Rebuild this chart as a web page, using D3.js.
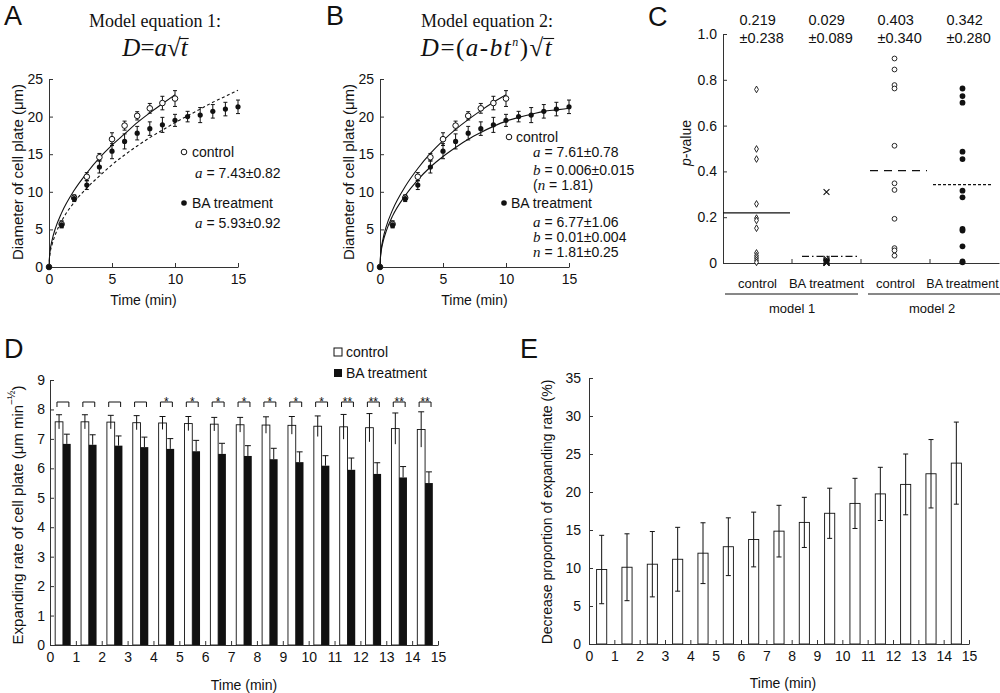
<!DOCTYPE html>
<html>
<head>
<meta charset="utf-8">
<script src="https://cdn.jsdelivr.net/npm/d3@7"></script>
<style>
    body { margin: 0; background: #fff; }
    svg { display: block; }
    text { font-family: Arial, "Liberation Sans", sans-serif; fill: #111; }
    .serif { font-family: "Times New Roman", "Liberation Serif", serif; }
    .it { font-style: italic; }
</style>
</head>
<body>
<div class="figura"></div>
<script>
// ---- datos ----
// A y B: diametro de la placa celular
const tiempoCtrl = [0, 1, 2, 3, 4, 5, 6, 7, 8, 9, 10];
const diamCtrl = [0, 5.7, 9.2, 12.0, 14.6, 17.0, 18.8, 20.1, 21.1, 21.8, 22.4];
const errCtrl = [0, 0.45, 0.4, 0.55, 0.5, 0.85, 0.6, 0.55, 0.65, 0.9, 1.05];
const tiempoBA = [0, 1, 2, 3, 4, 5, 6, 7, 8, 9, 10, 11, 12, 13, 14, 15];
const diamBA = [0, 5.6, 9.1, 10.9, 13.3, 15.4, 16.7, 17.8, 18.4, 18.9, 19.5, 20.0, 20.2, 20.7, 21.0, 21.3];
const errBA = [0, 0.4, 0.4, 0.6, 0.8, 1.0, 1.0, 0.9, 0.9, 1.0, 0.8, 0.7, 1.0, 0.9, 0.9, 0.9];

// curvas ajustadas
const tiempoAjuste = [0, 0.05, 0.25, 0.5, 1, 2, 3, 4, 5, 6, 7, 8, 9, 10, 11, 12, 13, 14, 15];
const ajusteA_ctrl = [0, 1.6, 3.6, 5.1, 7.2, 10.2, 12.5, 14.5, 16.2, 17.7, 19.2, 20.5, 21.7, 22.9];
const ajusteA_BA = [0, 1.36, 3.0, 4.3, 6.1, 8.6, 10.5, 12.1, 13.6, 14.9, 16.1, 17.2, 18.2, 19.2, 20.1, 21.0, 21.9, 22.7, 23.5];
const ajusteB_ctrl = [0, 1.7, 3.8, 5.4, 7.6, 10.7, 13.1, 15.1, 16.8, 18.3, 19.6, 20.8, 21.9, 22.9];
const ajusteB_BA = [0, 1.5, 3.4, 4.8, 6.8, 9.5, 11.6, 13.3, 14.7, 15.9, 17.0, 17.9, 18.7, 19.4, 19.9, 20.3, 20.7, 20.9, 21.1];

// C: p-values
const categoriasC = ['control', 'BA treatment', 'control', 'BA treatment'];
const mediasC = [0.219, 0.029, 0.403, 0.342];
const sdC = [0.238, 0.089, 0.340, 0.280];
const pCtrlM1 = [0.758, 0.498, 0.454, 0.258, 0.196, 0.186, 0.152, 0.044, 0.032, 0.022, 0.012, 0.003];
const pBAM1 = [0.31, 0.018, 0.012, 0.008, 0.004, 0.002, 0.001, 0];
const pCtrlM2 = [0.893, 0.845, 0.777, 0.762, 0.512, 0.348, 0.319, 0.193, 0.065, 0.055, 0.032];
const pBAM2 = [0.762, 0.729, 0.700, 0.486, 0.454, 0.316, 0.287, 0.149, 0.142, 0.073, 0.007, 0.003];

// D: tasa de expansion
const intervalos = d3.range(15);
const tasaCtrl = [7.58, 7.58, 7.57, 7.55, 7.54, 7.52, 7.50, 7.48, 7.47, 7.46, 7.43, 7.41, 7.38, 7.35, 7.32];
const errTasaCtrl = [0.24, 0.24, 0.23, 0.24, 0.22, 0.24, 0.23, 0.25, 0.28, 0.3, 0.35, 0.42, 0.48, 0.53, 0.6];
const tasaBA = [6.83, 6.80, 6.77, 6.72, 6.66, 6.58, 6.49, 6.42, 6.31, 6.21, 6.09, 5.95, 5.81, 5.69, 5.50];
const errTasaBA = [0.33, 0.34, 0.33, 0.34, 0.35, 0.37, 0.36, 0.35, 0.37, 0.35, 0.34, 0.4, 0.38, 0.37, 0.38];
const estrellas = ['', '', '', '', '*', '*', '*', '*', '*', '*', '*', '**', '**', '**', '**'];

// E: proporcion de disminucion (%)
const disminucion = [9.8, 10.1, 10.5, 11.15, 11.95, 12.8, 13.75, 14.85, 16.0, 17.2, 18.5, 19.75, 21.0, 22.4, 23.8];
const errDisminucion = [4.5, 4.4, 4.3, 4.2, 4.0, 3.8, 3.6, 3.4, 3.3, 3.3, 3.3, 3.5, 4.0, 4.5, 5.4];

const ancho = 1000,
    alto = 693;

const svg = d3.select('.figura').append('svg')
    .attr('width', ancho)
    .attr('height', alto);

const negro = '#111';

function ejeY(escala, x, ticks, pad, fmt) {
    const eje = d3.axisLeft(escala).tickValues(ticks).tickSizeInner(-4).tickSizeOuter(0).tickPadding(pad);
    if (fmt) eje.tickFormat(fmt);
    const g = svg.append('g').attr('transform', 'translate(' + x + ',0)').call(eje);
    estiloEje(g);
    return g;
}

function ejeX(escala, y, ticks, pad, fmt) {
    const eje = d3.axisBottom(escala).tickValues(ticks).tickSizeInner(-4).tickSizeOuter(0).tickPadding(pad);
    if (fmt) eje.tickFormat(fmt);
    const g = svg.append('g').attr('transform', 'translate(0,' + y + ')').call(eje);
    estiloEje(g);
    return g;
}

function estiloEje(g) {
    g.attr('font-size', 14).attr('font-family', null);
    g.select('.domain').attr('stroke', '#333');
    g.selectAll('.tick line').attr('stroke', '#333');
    g.selectAll('.tick text').attr('fill', negro);
}

function etiquetaY(x, y, txt, size) {
    return svg.append('text')
        .attr('transform', 'translate(' + x + ',' + y + ') rotate(-90)')
        .attr('text-anchor', 'middle')
        .attr('dominant-baseline', 'central')
        .attr('font-size', size || 15)
        .text(txt);
}

function letraPanel(x, y, l) {
    svg.append('text').attr('x', x).attr('y', y).attr('font-size', 27).text(l);
}

function barraError(g, cx, y0, y1, capa, ambas) {
    g.append('line').attr('x1', cx).attr('x2', cx).attr('y1', y0).attr('y2', y1).attr('stroke', negro);
    g.append('line').attr('x1', cx - capa).attr('x2', cx + capa).attr('y1', y1).attr('y2', y1).attr('stroke', negro);
    if (ambas) g.append('line').attr('x1', cx - capa).attr('x2', cx + capa).attr('y1', y0).attr('y2', y0).attr('stroke', negro);
}

// linea de parametro: "a = 7.43±0.82" con la variable en cursiva serif
function lineaParam(x, y, variable, resto, parentesis) {
    const t = svg.append('text').attr('x', x).attr('y', y).attr('font-size', 14);
    if (parentesis) t.append('tspan').text('(');
    t.append('tspan').attr('class', 'serif it').attr('font-size', 15).text(variable);
    t.append('tspan').text(resto);
}

// raya de la raiz sobre la ultima letra
function rayaRaiz(texto, yb) {
    const nodo = texto.node();
    const n = nodo.getNumberOfChars();
    const r = nodo.getExtentOfChar(n - 2);
    const t = nodo.getExtentOfChar(n - 1);
    svg.append('line')
        .attr('x1', r.x + r.width - 1.5).attr('x2', t.x + t.width + 1)
        .attr('y1', yb).attr('y2', yb)
        .attr('stroke', negro).attr('stroke-width', 1.1);
}

// ---- A y B ----
function panelCurvas(ox, ajusteCtrl, ajusteBA, discontinua) {
    const x = d3.scaleLinear().domain([0, 15]).range([ox, ox + 189]);
    const y = d3.scaleLinear().domain([0, 25]).range([267, 79]);

    ejeY(y, ox, [0, 5, 10, 15, 20, 25], 6);
    ejeX(x, 267, [0, 5, 10, 15], 7);

    const linea = d3.line()
        .x(d => x(d[0]))
        .y(d => y(d[1]))
        .curve(d3.curveMonotoneX);

    const g = svg.append('g');
    g.append('path')
        .datum(ajusteCtrl.map((v, i) => [tiempoAjuste[i], v]))
        .attr('d', linea)
        .attr('fill', 'none')
        .attr('stroke', negro)
        .attr('stroke-width', 1.1);
    g.append('path')
        .datum(ajusteBA.map((v, i) => [tiempoAjuste[i], v]))
        .attr('d', linea)
        .attr('fill', 'none')
        .attr('stroke', negro)
        .attr('stroke-width', 1.1)
        .attr('stroke-dasharray', discontinua ? '3,2.5' : null);

    // barras de error
    tiempoCtrl.forEach((t, i) => {
        if (errCtrl[i] > 0) barraError(g, x(t), y(diamCtrl[i] - errCtrl[i]), y(diamCtrl[i] + errCtrl[i]), 2, true);
    });
    tiempoBA.forEach((t, i) => {
        if (errBA[i] > 0) barraError(g, x(t), y(diamBA[i] - errBA[i]), y(diamBA[i] + errBA[i]), 2, true);
    });

    g.selectAll('.ctrl').data(tiempoCtrl).enter().append('circle')
        .attr('cx', d => x(d))
        .attr('cy', (d, i) => y(diamCtrl[i]))
        .attr('r', 2.8)
        .attr('fill', '#fff')
        .attr('stroke', negro);
    g.selectAll('.ba').data(tiempoBA).enter().append('circle')
        .attr('cx', d => x(d))
        .attr('cy', (d, i) => y(diamBA[i]))
        .attr('r', 2.6)
        .attr('fill', negro);

    svg.append('text')
        .attr('x', (x(0) + x(15)) / 2)
        .attr('y', 305)
        .attr('text-anchor', 'middle')
        .attr('font-size', 14)
        .text('Time (min)');
    etiquetaY(ox - 32, 172, 'Diameter of cell plate (\u03bcm)');
}

panelCurvas(49, ajusteA_ctrl, ajusteA_BA, true);
panelCurvas(380, ajusteB_ctrl, ajusteB_BA, false);

letraPanel(4, 25, 'A');
letraPanel(326, 25, 'B');

// titulos
svg.append('text').attr('class', 'serif').attr('x', 155).attr('y', 27)
    .attr('text-anchor', 'middle').attr('font-size', 18).text('Model equation 1:');
svg.append('text').attr('class', 'serif').attr('x', 487).attr('y', 27)
    .attr('text-anchor', 'middle').attr('font-size', 18).text('Model equation 2:');

const formA = svg.append('text').attr('class', 'serif').attr('x', 155).attr('y', 56)
    .attr('text-anchor', 'middle').attr('font-size', 25);
formA.append('tspan').attr('class', 'it').text('D');
formA.append('tspan').text('=');
formA.append('tspan').attr('class', 'it').text('a');
formA.append('tspan').text('\u221a');
formA.append('tspan').attr('class', 'it').text('t');
rayaRaiz(formA, 38.5);

const formB = svg.append('text').attr('class', 'serif').attr('x', 487).attr('y', 56)
    .attr('text-anchor', 'middle').attr('font-size', 25).attr('letter-spacing', 1.5);
formB.append('tspan').attr('class', 'it').text('D');
formB.append('tspan').text('=(');
formB.append('tspan').attr('class', 'it').text('a');
formB.append('tspan').text('-');
formB.append('tspan').attr('class', 'it').text('bt');
formB.append('tspan').attr('class', 'it').attr('font-size', 12).attr('dy', -10).text('n');
formB.append('tspan').attr('dy', 10).text(')');
formB.append('tspan').text('\u221a');
formB.append('tspan').attr('class', 'it').text('t');
rayaRaiz(formB, 38.5);

// leyendas A
svg.append('circle').attr('cx', 184).attr('cy', 152).attr('r', 2.8).attr('fill', '#fff').attr('stroke', negro);
svg.append('text').attr('x', 192).attr('y', 157).attr('font-size', 14).text('control');
lineaParam(195, 178, 'a', ' = 7.43\u00b10.82');
svg.append('circle').attr('cx', 184).attr('cy', 203).attr('r', 2.8).attr('fill', negro);
svg.append('text').attr('x', 192).attr('y', 208).attr('font-size', 14).text('BA treatment');
lineaParam(195, 228, 'a', ' = 5.93\u00b10.92');

// leyendas B
svg.append('circle').attr('cx', 509).attr('cy', 137).attr('r', 2.8).attr('fill', '#fff').attr('stroke', negro);
svg.append('text').attr('x', 516).attr('y', 142).attr('font-size', 14).text('control');
lineaParam(533, 157, 'a', ' = 7.61\u00b10.78');
lineaParam(533, 175, 'b', ' = 0.006\u00b10.015');
lineaParam(533, 190, 'n', ' = 1.81)', true);
svg.append('circle').attr('cx', 504).attr('cy', 203).attr('r', 2.8).attr('fill', negro);
svg.append('text').attr('x', 511).attr('y', 208).attr('font-size', 14).text('BA treatment');
lineaParam(533, 227, 'a', ' = 6.77\u00b11.06');
lineaParam(533, 242, 'b', ' = 0.01\u00b10.004');
lineaParam(533, 257, 'n', ' = 1.81\u00b10.25');

// ---- C ----
(function () {
    const claves = categoriasC.map((c, i) => i);
    const x = d3.scaleBand().domain(claves).range([723, 999]);
    const y = d3.scaleLinear().domain([0, 1]).range([263, 34]);

    ejeY(y, 723, [0, 0.2, 0.4, 0.6, 0.8, 1.0], 6, d => d === 0 ? '0' : d3.format('.1f')(d));
    ejeX(x, 263, [], 0);
    // ticks en los limites de categoria
    [1, 2, 3].forEach(i => {
        svg.append('line')
            .attr('x1', x(i)).attr('x2', x(i))
            .attr('y1', 263).attr('y2', 259)
            .attr('stroke', '#333');
    });

    claves.forEach(i => {
        const cx = x(i) + x.bandwidth() / 2;
        svg.append('text').attr('x', i === 3 ? cx - 2 : cx).attr('y', 288).attr('text-anchor', 'middle')
            .attr('font-size', i === 3 ? 12.5 : 13).text(categoriasC[i]);
        svg.append('text').attr('x', cx - 18).attr('y', 25).attr('font-size', 14.5)
            .text(d3.format('.3f')(mediasC[i]));
        svg.append('text').attr('x', cx - 18).attr('y', 43).attr('font-size', 14.5)
            .text('\u00b1' + d3.format('.3f')(sdC[i]));
    });

    // agrupacion de modelos
    svg.append('line').attr('x1', 725).attr('x2', 858).attr('y1', 294).attr('y2', 294).attr('stroke', negro);
    svg.append('line').attr('x1', 868).attr('x2', 1000).attr('y1', 294).attr('y2', 294).attr('stroke', negro);
    svg.append('text').attr('x', 792).attr('y', 313).attr('text-anchor', 'middle').attr('font-size', 13).text('model 1');
    svg.append('text').attr('x', 932).attr('y', 313).attr('text-anchor', 'middle').attr('font-size', 13).text('model 2');

    const p = svg.append('text')
        .attr('transform', 'translate(686,143) rotate(-90)')
        .attr('text-anchor', 'middle')
        .attr('dominant-baseline', 'central')
        .attr('font-size', 14);
    p.append('tspan').attr('font-style', 'italic').text('p');
    p.append('tspan').text('-value');

    const centro = i => x(i) + x.bandwidth() / 2;

    // lineas de media
    const estilos = [null, '7,3,1.5,3', '8,6', '3,2'];
    const extremos = [[723, 790], [802, 858], [870, 927], [933, 992]];
    mediasC.forEach((m, i) => {
        svg.append('line')
            .attr('x1', extremos[i][0]).attr('x2', extremos[i][1])
            .attr('y1', y(m)).attr('y2', y(m))
            .attr('stroke', negro)
            .attr('stroke-width', 1.2)
            .attr('stroke-dasharray', estilos[i]);
    });

    const rombo = d3.symbol().type(d3.symbolDiamond).size(13);
    svg.selectAll('.c0').data(pCtrlM1).enter().append('path')
        .attr('d', rombo)
        .attr('transform', d => 'translate(' + (centro(0) - 1) + ',' + y(d) + ')')
        .attr('fill', '#fff').attr('stroke', negro).attr('stroke-width', 0.9);

    const cruz = d3.symbol().type(d3.symbolTimes).size(24);
    svg.selectAll('.c1').data(pBAM1).enter().append('path')
        .attr('d', cruz)
        .attr('transform', d => 'translate(' + centro(1) + ',' + y(d) + ')')
        .attr('fill', 'none').attr('stroke', negro).attr('stroke-width', 1.1);

    svg.selectAll('.c2').data(pCtrlM2).enter().append('circle')
        .attr('cx', centro(2) - 1).attr('cy', d => y(d)).attr('r', 2.4)
        .attr('fill', '#fff').attr('stroke', negro).attr('stroke-width', 0.9);

    svg.selectAll('.c3').data(pBAM2).enter().append('circle')
        .attr('cx', centro(3) - 2).attr('cy', d => y(d)).attr('r', 2.9)
        .attr('fill', negro);
})();

letraPanel(648, 26, 'C');

// ---- D ----
(function () {
    const x = d3.scaleLinear().domain([0, 15]).range([50, 438]);
    const y = d3.scaleLinear().domain([0, 9]).range([645, 380]);

    const g = svg.append('g');
    intervalos.forEach(i => {
        const x0 = x(i + 0.2), x1 = x(i + 0.5), x2 = x(i + 0.8);
        // barra control
        g.append('rect')
            .attr('x', x0).attr('y', y(tasaCtrl[i]))
            .attr('width', x1 - x0).attr('height', y(0) - y(tasaCtrl[i]))
            .attr('fill', '#fff').attr('stroke', negro).attr('stroke-width', 0.9);
        barraError(g, (x0 + x1) / 2, y(tasaCtrl[i] - errTasaCtrl[i]), y(tasaCtrl[i] + errTasaCtrl[i]), 3, false);
        // barra BA
        g.append('rect')
            .attr('x', x1).attr('y', y(tasaBA[i]))
            .attr('width', x2 - x1).attr('height', y(0) - y(tasaBA[i]))
            .attr('fill', negro);
        barraError(g, (x1 + x2) / 2, y(tasaBA[i]), y(tasaBA[i] + errTasaBA[i]), 3, false);

        // corchete de significancia
        const bx0 = x(i + 0.27), bx1 = x(i + 0.73);
        g.append('path')
            .attr('d', 'M' + bx0 + ',407V402H' + bx1 + 'V407')
            .attr('fill', 'none').attr('stroke', negro);
        if (estrellas[i]) {
            g.append('text').attr('x', (bx0 + bx1) / 2).attr('y', 406)
                .attr('text-anchor', 'middle').attr('font-size', 12).text(estrellas[i]);
        }
    });

    ejeY(y, 50, d3.range(0, 10), 5);
    ejeX(x, 645, d3.range(0, 16), 7);

    svg.append('text').attr('x', 244).attr('y', 690).attr('text-anchor', 'middle')
        .attr('font-size', 14).text('Time (min)');

    const ey = etiquetaY(17, 515, '', 15);
    ey.append('tspan').text('Expanding rate of cell plate (\u03bcm min');
    ey.append('tspan').attr('font-size', 10).attr('dy', -6).text('\u2212\u00bd');
    ey.append('tspan').attr('dy', 6).text(')');

    // leyenda
    svg.append('rect').attr('x', 334).attr('y', 348).attr('width', 8).attr('height', 8)
        .attr('fill', '#fff').attr('stroke', negro);
    svg.append('text').attr('x', 346).attr('y', 357).attr('font-size', 14).text('control');
    svg.append('rect').attr('x', 334).attr('y', 369).attr('width', 8).attr('height', 8).attr('fill', negro);
    svg.append('text').attr('x', 346).attr('y', 378).attr('font-size', 14).text('BA treatment');
})();

letraPanel(4, 358, 'D');

// ---- E ----
(function () {
    const x = d3.scaleLinear().domain([0, 15]).range([589, 969]);
    const y = d3.scaleLinear().domain([0, 35]).range([644, 378]);

    const g = svg.append('g');
    intervalos.forEach(i => {
        const x0 = x(i + 0.3), x1 = x(i + 0.7);
        g.append('rect')
            .attr('x', x0).attr('y', y(disminucion[i]))
            .attr('width', x1 - x0).attr('height', y(0) - y(disminucion[i]))
            .attr('fill', '#fff').attr('stroke', negro).attr('stroke-width', 0.9);
        barraError(g, (x0 + x1) / 2, y(disminucion[i] - errDisminucion[i]), y(disminucion[i] + errDisminucion[i]), 2.5, true);
    });

    ejeY(y, 589, d3.range(0, 36, 5), 8);
    ejeX(x, 644, d3.range(0, 16), 7);

    svg.append('text').attr('x', 783).attr('y', 688).attr('text-anchor', 'middle')
        .attr('font-size', 14).text('Time (min)');
    etiquetaY(547, 512, 'Decrease proportion of expanding rate (%)', 14);
})();

letraPanel(520, 358, 'E');
</script>
</body>
</html>
